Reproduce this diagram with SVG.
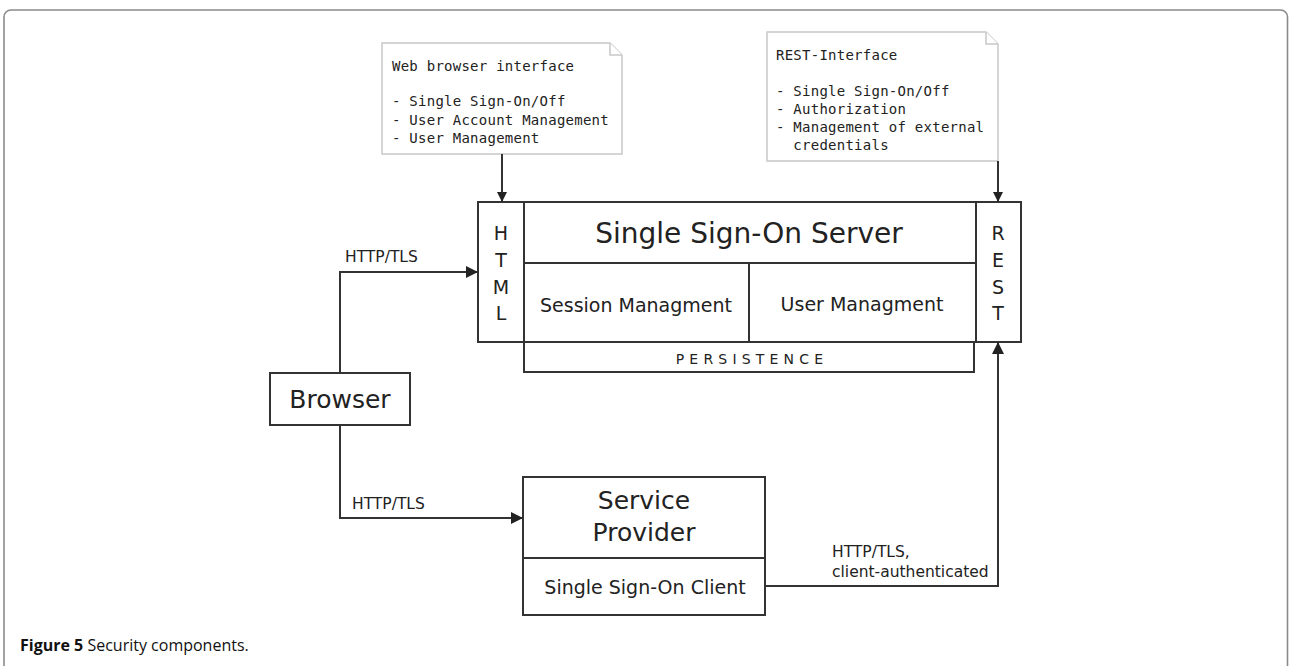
<svg xmlns="http://www.w3.org/2000/svg" width="1290" height="666" viewBox="0 0 1290 666">
<style>
.frame{fill:#fff;stroke:#8a8a8a;stroke-width:1.6}
.box{fill:#fff;stroke:#333;stroke-width:2}
.ln{fill:none;stroke:#333;stroke-width:2}
.note{fill:#fff;stroke:#c8c8c8;stroke-width:1.5}
.t{font-family:"DejaVu Sans",sans-serif;fill:#222}
.m{font-family:"DejaVu Sans Mono",monospace;font-size:14px;letter-spacing:0.25px;fill:#222;white-space:pre}
.cap{font-family:"Open Sans","Liberation Sans",sans-serif;font-size:16px;fill:#111}
</style>
<defs>
<marker id="ah" viewBox="0 0 10 10" refX="10" refY="5" markerWidth="10" markerHeight="10" markerUnits="userSpaceOnUse" orient="auto">
<path d="M0,0 L10,5 L0,10 z" fill="#222"/>
</marker>
<marker id="ahb" viewBox="0 0 12 12" refX="12" refY="6" markerWidth="12" markerHeight="12" markerUnits="userSpaceOnUse" orient="auto">
<path d="M0,0 L12,6 L0,12 z" fill="#222"/>
</marker>
</defs>
<rect class="frame" x="4" y="10" width="1283.5" height="680" rx="7"/>

<g id="note-web">
<path class="note" d="M382,43 H610 L622,55 V154 H382 Z"/>
<path class="note" d="M610,43 V55 H622" fill="none"/>
<text class="m" x="392" y="71">Web browser interface</text>
<text class="m" x="392" y="106">- Single Sign-On/Off</text>
<text class="m" x="392" y="125">- User Account Management</text>
<text class="m" x="392" y="143">- User Management</text>
</g>

<g id="note-rest">
<path class="note" d="M767,32 H986 L998,44 V161 H767 Z"/>
<path class="note" d="M986,32 V44 H998" fill="none"/>
<text class="m" x="776" y="60">REST-Interface</text>
<text class="m" x="776" y="96">- Single Sign-On/Off</text>
<text class="m" x="776" y="114">- Authorization</text>
<text class="m" x="776" y="132">- Management of external</text>
<text class="m" x="776" y="150">  credentials</text>
</g>

<g id="sso-server">
<rect class="box" x="524" y="342" width="450" height="30"/>
<rect class="box" x="478" y="202" width="543" height="140"/>
<line class="ln" x1="524" y1="202" x2="524" y2="342"/>
<line class="ln" x1="976" y1="202" x2="976" y2="342"/>
<line class="ln" x1="524" y1="263" x2="976" y2="263"/>
<line class="ln" x1="749" y1="263" x2="749" y2="342"/>
<text class="t" x="749" y="243" font-size="28" text-anchor="middle">Single Sign-On Server</text>
<text class="t" x="636" y="312" font-size="19" text-anchor="middle">Session Managment</text>
<text class="t" x="862" y="311" font-size="19" text-anchor="middle">User Managment</text>
<text class="t" x="752" y="364" font-size="14" text-anchor="middle" letter-spacing="5.2">PERSISTENCE</text>
<g font-size="19" text-anchor="middle">
<text class="t" x="501" y="240">H</text>
<text class="t" x="501" y="267">T</text>
<text class="t" x="501" y="294">M</text>
<text class="t" x="501" y="320">L</text>
<text class="t" x="998" y="240">R</text>
<text class="t" x="998" y="267">E</text>
<text class="t" x="998" y="294">S</text>
<text class="t" x="998" y="320">T</text>
</g>
</g>

<g id="browser">
<rect class="box" x="270" y="373" width="140" height="52"/>
<text class="t" x="340" y="408" font-size="25" text-anchor="middle">Browser</text>
</g>

<g id="service-provider">
<rect class="box" x="523" y="477" width="242" height="138"/>
<line class="ln" x1="523" y1="558" x2="765" y2="558"/>
<text class="t" x="644" y="509" font-size="25" text-anchor="middle">Service</text>
<text class="t" x="644" y="541" font-size="25" text-anchor="middle">Provider</text>
<text class="t" x="645" y="594" font-size="19" text-anchor="middle">Single Sign-On Client</text>
</g>

<g id="connectors">
<line class="ln" x1="502" y1="154" x2="502" y2="202" marker-end="url(#ah)"/>
<line class="ln" x1="998" y1="161" x2="998" y2="202" marker-end="url(#ah)"/>
<polyline class="ln" points="340,373 340,272 478,272" marker-end="url(#ahb)"/>
<polyline class="ln" points="340,425 340,518 523,518" marker-end="url(#ahb)"/>
<polyline class="ln" points="765,586 998,586 998,342" marker-end="url(#ahb)"/>
<text class="t" x="345" y="262" font-size="15.5">HTTP/TLS</text>
<text class="t" x="352" y="509" font-size="15.5">HTTP/TLS</text>
<text class="t" x="832" y="557" font-size="15.5">HTTP/TLS,</text>
<text class="t" x="832" y="577" font-size="15.5">client-authenticated</text>
</g>

<text class="cap" x="20" y="651"><tspan font-weight="bold">Figure 5</tspan> Security components.</text>
</svg>
